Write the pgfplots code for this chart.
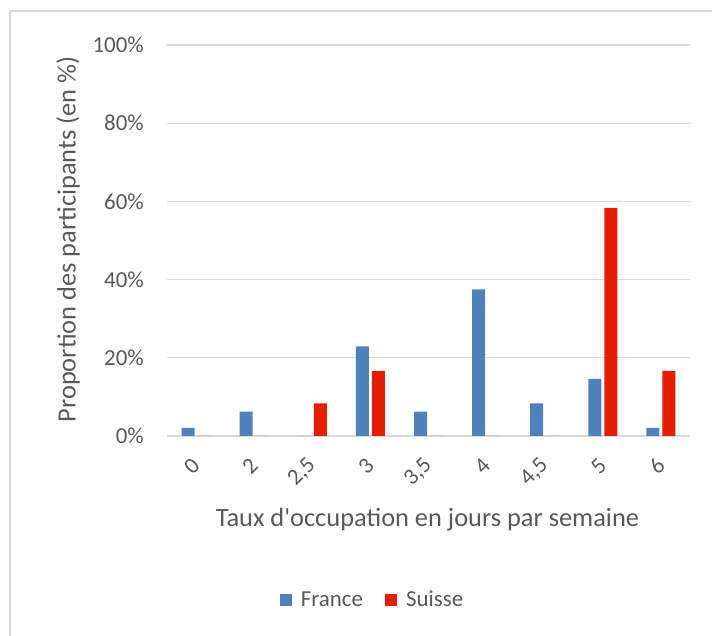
\documentclass[border=0pt]{standalone}
\usepackage{pgfplots}
\pgfplotsset{compat=1.18}
\usepackage{fontspec}
\setmainfont{Carlito}
\definecolor{txt}{HTML}{595959}
\definecolor{gridc}{HTML}{D9D9D9}
\definecolor{fr}{HTML}{4F81BD}
\definecolor{ch}{HTML}{E31F00}
\begin{document}
\begin{tikzpicture}[x=1bp,y=1bp]
\path[use as bounding box] (0,0) rectangle (712,636);
\draw[gridc, line width=1.2bp] (10,-20) -- (10,625) -- (730,625);
\begin{axis}[
  at={(167bp,200bp)}, anchor=south west,
  scale only axis, width=523bp, height=391bp,
  ybar=3bp, bar width=13bp,
  xmin=-0.5, xmax=8.5, ymin=0, ymax=100,
  xtick={0,...,8},
  xticklabels={0,2,{2,5},3,{3,5},4,{4,5},5,6},
  ytick={0,20,...,100},
  yticklabels={0\%,20\%,40\%,60\%,80\%,100\%},
  axis line style={draw=none},
  major tick length=0pt,
  ymajorgrids, grid style={gridc, line width=1.3bp},
  tick label style={text=txt, font=\fontsize{23}{26}\selectfont},
  yticklabel style={anchor=east, inner sep=0pt, xshift=-23bp},
  xticklabel style={inner sep=0pt, yshift=-26bp, rotate=45, anchor=east},
  xlabel={Taux d\textquotesingle occupation en jours par semaine},
  ylabel={Proportion des participants (en \%)},
  label style={text=txt, font=\fontsize{26.5}{30}\selectfont},
  xlabel style={at={(axis description cs:0.498,-0.215)}, anchor=center},
  ylabel style={at={(axis description cs:-0.189,0.503)}, anchor=center, rotate=0},
  legend style={at={(axis description cs:0.393,-0.419)}, anchor=center, draw=none,
    font=\fontsize{23}{26}\selectfont, text=txt,
    /tikz/every odd column/.append style={column sep=7bp},
    /tikz/every even column/.append style={column sep=20bp}},
  legend columns=-1,
  legend image code/.code={\fill[#1] (0bp,-6bp) rectangle (12bp,6bp);},
]
\addplot[fill=fr, draw=none] coordinates {(0,2.08) (1,6.25) (2,0) (3,22.92) (4,6.25) (5,37.5) (6,8.33) (7,14.58) (8,2.08)};
\addplot[fill=ch, draw=none] coordinates {(0,0) (1,0) (2,8.33) (3,16.67) (4,0) (5,0) (6,0) (7,58.33) (8,16.67)};
\legend{France,Suisse}
\end{axis}
\end{tikzpicture}
\end{document}
